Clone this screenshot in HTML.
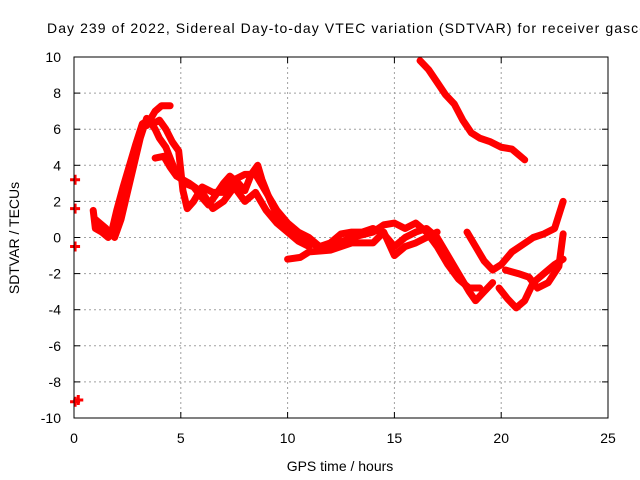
<!DOCTYPE html>
<html><head><meta charset="utf-8"><style>
html,body{margin:0;padding:0;background:#fff;width:640px;height:480px;overflow:hidden}
svg{display:block;font-family:"Liberation Sans",sans-serif}
</style></head><body>
<svg id="chart" width="640" height="480">
<rect x="0" y="0" width="640" height="480" fill="#fff"/>
<g id="grid"></g>
<g id="series"></g>
<g id="axes"></g>
<text x="47" y="33" font-size="14" textLength="600" lengthAdjust="spacing" fill="#000">Day 239 of 2022, Sidereal Day-to-day VTEC variation (SDTVAR) for receiver gasco</text>
<text x="340" y="471" font-size="14" text-anchor="middle">GPS time / hours</text>
<text transform="translate(19,238) rotate(-90)" font-size="14" text-anchor="middle">SDTVAR / TECUs</text>
</svg>
<script>
const xTicks=[0,5,10,15,20,25];
const yTicks=[-10,-8,-6,-4,-2,0,2,4,6,8,10];
const s1=[[0.9,1.5],[1.0,0.5],[1.3,0.3],[1.6,0],[1.8,0.5],[2.0,1.5],[2.3,2.8],[2.6,4],[2.9,5.2],[3.2,6.3],[3.5,6.5],[3.8,6.0],[4.0,5.5],[4.3,5.0],[4.8,3.5],[5.2,3.0],[5.6,2.8],[6.0,2.2],[6.3,1.8],[6.6,2.3],[7.0,3.0],[7.3,3.4],[7.7,3.0],[8.0,2.6],[8.3,3.5],[8.6,4.0],[8.8,3.2],[9.2,2.0],[9.6,1.0],[10.0,0.5],[10.5,0],[11.0,-0.3],[11.5,-0.5],[12,-0.3],[12.5,0.2],[13,0.3],[13.5,0.3],[14,0.5],[14.5,0.2],[15,-0.5],[15.5,0],[16,0.3],[16.5,0.5],[17,0],[17.5,-1],[18,-2],[18.5,-3],[18.8,-3.5],[19.2,-3],[19.6,-2.5]];
const s2=[[1.0,1.0],[1.5,0.5],[1.9,0],[2.2,1],[2.5,2.5],[2.8,4],[3.1,5.5],[3.4,6.6],[3.7,6.3],[4.0,6.5],[4.3,6.0],[4.6,5.3],[4.9,4.8],[5.1,2.6],[5.3,1.6],[5.6,2.0],[6,2.8],[6.5,2.5],[7,2.5],[7.5,3.2],[8,3.5],[8.5,3.5],[9,2.5],[9.5,1.5],[10,0.8],[10.5,0.3],[11,0],[11.5,-0.5],[12,-0.5],[13,0],[14,0.3],[14.5,0.7],[15,0.8],[15.5,0.5],[16,0.8],[16.5,0.3],[17,-0.5],[17.5,-1.5],[18,-2.3],[18.5,-2.8],[19,-2.8]];
const s3=[[3.4,6.2],[3.8,7.0],[4.1,7.3],[4.5,7.3]];
const s4=[[3.8,4.4],[4.2,4.5],[4.5,3.9],[4.8,3.4],[5.4,3.0],[6,2.5],[6.5,1.6],[7,2.0],[7.5,2.8],[8,2.0],[8.5,2.5],[9,1.5],[9.5,0.8],[10,0.3],[10.5,-0.2],[11,-0.5]];
const s5=[[10,-1.2],[10.6,-1.1],[11,-0.8],[12,-0.7],[13,-0.3],[14,-0.3],[14.5,0.3],[15,-1.0],[15.5,-0.5],[16,-0.3],[16.5,0],[17,0.3]];
const s6=[[16.2,9.8],[16.6,9.3],[17,8.6],[17.4,7.9],[17.8,7.4],[18.2,6.5],[18.6,5.8],[19,5.5],[19.5,5.3],[20,5.0],[20.5,4.9],[21.1,4.3]];
const s7=[[18.4,0.3],[18.8,-0.5],[19.2,-1.3],[19.6,-1.8],[20,-1.5],[20.5,-0.8],[21,-0.4],[21.5,0],[22,0.2],[22.5,0.5],[22.9,2.0]];
const s8=[[19.9,-2.8],[20.3,-3.4],[20.7,-3.9],[21.1,-3.5],[21.5,-2.5],[22,-2],[22.5,-1.5],[22.9,-1.2]];
const s9=[[20.2,-1.8],[20.8,-2],[21.3,-2.2],[21.7,-2.8],[22.2,-2.5],[22.7,-1.6],[22.9,0.2]];
const isolated=[[0.05,3.2],[0.05,1.6],[0.05,-0.5],[0.05,-9.1],[0.2,-9.0]];
const NS='http://www.w3.org/2000/svg';
const X0=74,X1=608,Y0=418,Y1=57;
function xs(v){return X0+(v-0)/(25-0)*(X1-X0);}
function ys(v){return Y0-(v+10)/20*(Y0-Y1);}
function mk(t,a,p){const e=document.createElementNS(NS,t);for(const k in a)e.setAttribute(k,a[k]);p.appendChild(e);return e;}
const grid=document.getElementById('grid'),axes=document.getElementById('axes'),ser=document.getElementById('series');
xTicks.forEach(t=>{
 if(t>0&&t<25){const l=mk('line',{x1:xs(t),x2:xs(t),y1:Y1,y2:Y0,stroke:'#a0a0a0','stroke-dasharray':'2,3'},grid);
 }
 const tx=mk('text',{x:xs(t),y:Y0+25,'font-size':14,'text-anchor':'middle'},axes);tx.textContent=t;
 
 mk('line',{x1:xs(t),x2:xs(t),y1:Y0,y2:Y0-6,stroke:'#000'},axes);
 mk('line',{x1:xs(t),x2:xs(t),y1:Y1,y2:Y1+6,stroke:'#000'},axes);
});
yTicks.forEach(t=>{
 if(t>-10&&t<10){const l=mk('line',{x1:X0,x2:X1,y1:ys(t),y2:ys(t),stroke:'#a0a0a0','stroke-dasharray':'2,3'},grid);
 }
 const tx=mk('text',{x:X0-13,y:ys(t)+5,'font-size':14,'text-anchor':'end'},axes);tx.textContent=t;
 
 mk('line',{x1:X0,x2:X0+6,y1:ys(t),y2:ys(t),stroke:'#000'},axes);
 mk('line',{x1:X1,x2:X1-6,y1:ys(t),y2:ys(t),stroke:'#000'},axes);
});
const fr=mk('rect',{x:X0,y:Y1,width:X1-X0,height:Y0-Y1,fill:'none',stroke:'#000'},axes);

[s1,s2,s3,s4,s5,s6,s7,s8,s9].forEach((s,i)=>{
 const p=mk('polyline',{points:s.map(d=>xs(d[0])+','+ys(d[1])).join(' '),fill:'none',stroke:'#ff0000','stroke-width':7,'stroke-linejoin':'round','stroke-linecap':'round'},ser);
 
 
});
isolated.forEach(d=>{
 const g=mk('path',{d:`M${xs(d[0])-5},${ys(d[1])}h10M${xs(d[0])},${ys(d[1])-5}v10`,stroke:'#ff0000','stroke-width':3},ser);
 
 
});
</script>
</body></html>
